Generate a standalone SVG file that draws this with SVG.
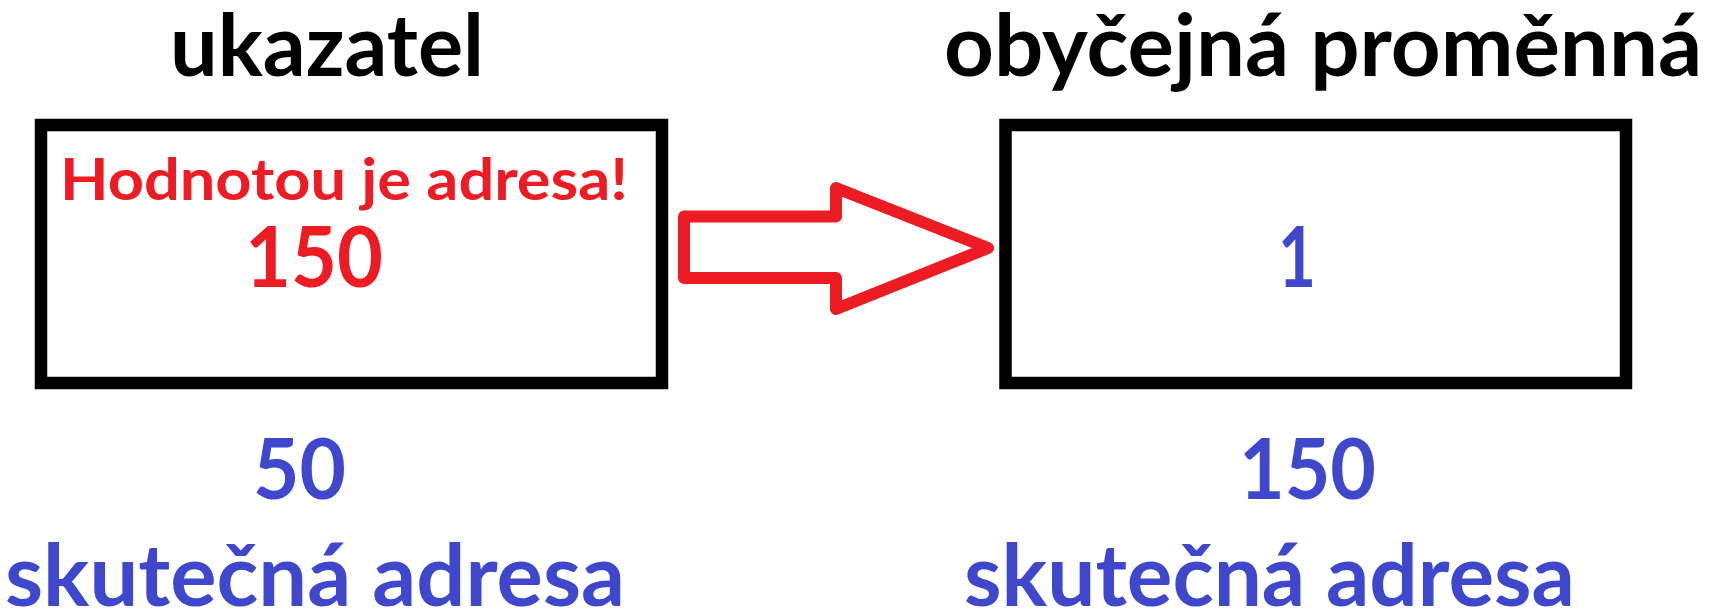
<svg xmlns="http://www.w3.org/2000/svg" width="1718" height="611" viewBox="0 0 1718 611">
  <style>
    text { font-family: Lato, "Open Sans", "Liberation Sans", sans-serif; font-weight: bold; }
    .head { font-size: 86px; fill: #000000; }
    .note { font-size: 57px; fill: #ed1c24; }
    .val-red { font-size: 84px; fill: #ed1c24; }
    .val-blue { font-size: 84px; fill: #3f48cc; }
    .addr { font-size: 86px; fill: #3f48cc; }
    .box { fill: #ffffff; stroke: #000000; stroke-width: 12.5; }
    .link { fill: none; stroke: #ed1c24; stroke-width: 12; stroke-linejoin: round; }
  </style>
  <rect width="1718" height="611" fill="#ffffff"/>

  <!-- pointer variable -->
  <g id="pointer">
    <text class="head" x="170" y="76" textLength="314" lengthAdjust="spacingAndGlyphs">ukazatel</text>
    <rect class="box" x="41" y="125" width="621" height="258"/>
    <text class="note" x="60" y="200" textLength="568" lengthAdjust="spacingAndGlyphs">Hodnotou je adresa!</text>
    <text class="val-red" x="245" y="287" textLength="138" lengthAdjust="spacingAndGlyphs">150</text>
    <text class="val-blue" x="253" y="499" textLength="93" lengthAdjust="spacingAndGlyphs">50</text>
    <text class="addr" x="5" y="606" textLength="620" lengthAdjust="spacingAndGlyphs">skutečná adresa</text>
  </g>

  <!-- ordinary variable -->
  <g id="variable">
    <text class="head" x="944" y="76" textLength="758" lengthAdjust="spacingAndGlyphs">obyčejná proměnná</text>
    <rect class="box" x="1005.5" y="125" width="620.5" height="258"/>
    <text class="val-blue" x="1278" y="287" textLength="38" lengthAdjust="spacingAndGlyphs">1</text>
    <text class="val-blue" x="1239" y="499" textLength="137" lengthAdjust="spacingAndGlyphs">150</text>
    <text class="addr" x="964" y="606" textLength="611" lengthAdjust="spacingAndGlyphs">skutečná adresa</text>
  </g>

  <!-- block arrow: pointer refers to variable -->
  <g id="connectors">
    <polygon class="link" points="684,216.5 836,216.5 836,188 988,248 836,309 836,278 684,278"/>
  </g>
</svg>
